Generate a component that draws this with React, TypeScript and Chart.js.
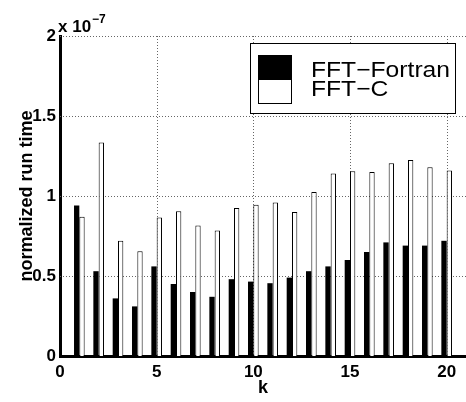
import { useEffect, useRef } from "react";
import { Chart, registerables } from "chart.js";

Chart.register(...registerables);

// Problem size index k
const kValues = [1, 2, 3, 4, 5, 6, 7, 8, 9, 10, 11, 12, 13, 14, 15, 16, 17, 18, 19, 20];

// Normalized run times, in units of 1e-7
const fortranTimes = [
  0.94, 0.53, 0.36, 0.31, 0.56, 0.45, 0.40, 0.37, 0.48, 0.465,
  0.455, 0.49, 0.53, 0.56, 0.60, 0.65, 0.71, 0.69, 0.69, 0.72,
];
const cTimes = [
  0.87, 1.335, 0.72, 0.655, 0.865, 0.905, 0.815, 0.785, 0.925, 0.945,
  0.96, 0.90, 1.025, 1.14, 1.155, 1.15, 1.205, 1.225, 1.18, 1.16,
];

const seriesNames = ["FFT\u2212Fortran", "FFT\u2212C"];
const xTicks = [0, 5, 10, 15, 20];
const yTicks = [0, 0.5, 1, 1.5, 2];
const xTitle = "k";
const yTitle = "normalized run time";
const exponentBase = "x 10";
const exponentPower = "\u22127";

const SANS = "'Liberation Sans', Arial, Helvetica, sans-serif";

const gridAndLabels = {
  id: "gridAndLabels",
  beforeDatasetsDraw(chart: any) {
    const { ctx, chartArea, scales } = chart;
    const xs = scales.x;
    const ys = scales.y;
    ctx.save();
    ctx.strokeStyle = "#666";
    ctx.lineWidth = 1;
    ctx.setLineDash([1, 2]);
    for (const v of xTicks) {
      if (v === 0) continue;
      const px = Math.round(xs.getPixelForValue(v)) + 0.5;
      ctx.beginPath();
      ctx.moveTo(px, chartArea.top);
      ctx.lineTo(px, chartArea.bottom);
      ctx.stroke();
    }
    for (const v of yTicks) {
      if (v === 0) continue;
      const py = Math.round(ys.getPixelForValue(v)) + 0.5;
      ctx.beginPath();
      ctx.moveTo(chartArea.left, py);
      ctx.lineTo(chartArea.right, py);
      ctx.stroke();
    }
    ctx.restore();
  },
  afterDraw(chart: any) {
    const { ctx, chartArea } = chart;
    ctx.save();
    ctx.fillStyle = "#000";

    // y axis title
    ctx.save();
    ctx.translate(27, (chartArea.top + chartArea.bottom) / 2);
    ctx.rotate(-Math.PI / 2);
    ctx.font = `bold 18px ${SANS}`;
    ctx.textAlign = "center";
    ctx.textBaseline = "middle";
    ctx.fillText(yTitle, 0, 0);
    ctx.restore();

    // x axis title
    ctx.font = `bold 18px ${SANS}`;
    ctx.textAlign = "center";
    ctx.textBaseline = "alphabetic";
    ctx.fillText(xTitle, (chartArea.left + chartArea.right) / 2, 393);

    // exponent multiplier above the y axis
    ctx.textAlign = "left";
    ctx.font = `bold 17px ${SANS}`;
    ctx.fillText(exponentBase, 58, 32);
    const baseW = ctx.measureText(exponentBase).width;
    ctx.font = `bold 12px ${SANS}`;
    ctx.fillText(exponentPower, 58 + baseW + 1, 23);

    // legend
    const lx = 250.5, ly = 43.5, lw = 205, lh = 70;
    ctx.fillStyle = "#fff";
    ctx.fillRect(lx, ly, lw, lh);
    ctx.strokeStyle = "#000";
    ctx.lineWidth = 1;
    ctx.strokeRect(lx, ly, lw, lh);
    const px = 258.5, py = 55.5, pw = 33, ph = 24;
    ctx.fillStyle = "#000";
    ctx.fillRect(px, py, pw, ph);
    ctx.strokeRect(px, py, pw, ph);
    ctx.fillStyle = "#fff";
    ctx.fillRect(px, py + ph, pw, ph);
    ctx.strokeRect(px, py + ph, pw, ph);

    ctx.fillStyle = "#000";
    ctx.font = `22px ${SANS}`;
    const w0 = ctx.measureText(seriesNames[0]).width;
    const sx = 139 / w0;
    ctx.save();
    ctx.translate(311, 0);
    ctx.scale(sx, 1);
    ctx.fillText(seriesNames[0], 0, 77);
    ctx.fillText(seriesNames[1], 0, 96);
    ctx.restore();

    ctx.restore();
  },
};

export default function App() {
  const canvasRef = useRef<HTMLCanvasElement | null>(null);

  useEffect(() => {
    const canvas = canvasRef.current;
    if (!canvas) return;
    const chart = new Chart(canvas, {
      type: "bar",
      data: {
        datasets: [
          {
            label: seriesNames[0],
            data: kValues.map((k, i) => ({ x: k, y: fortranTimes[i] })),
            backgroundColor: "#000",
            borderColor: "#000",
            borderWidth: 0,
          },
          {
            label: seriesNames[1],
            data: kValues.map((k, i) => ({ x: k, y: cTimes[i] })),
            backgroundColor: "#fff",
            borderColor: "#000",
            borderWidth: 1,
          },
        ],
      },
      options: {
        responsive: false,
        animation: false,
        devicePixelRatio: 1,
        categoryPercentage: 0.55,
        barPercentage: 1,
        layout: { padding: { top: 36, right: 0, left: 0, bottom: 0 } },
        plugins: {
          legend: { display: false },
          tooltip: { enabled: false },
        },
        scales: {
          x: {
            type: "linear",
            min: 0,
            max: 21,
            offset: false,
            grid: { display: false, offset: false, drawTicks: false },
            border: { display: true, color: "#000", width: 3 },
            afterFit: (s: any) => {
              s.height = 46;
            },
            afterBuildTicks: (s: any) => {
              s.ticks = xTicks.map((v) => ({ value: v }));
            },
            ticks: {
              color: "#000",
              font: { family: SANS, size: 17, weight: "bold" },
              padding: 6,
              maxRotation: 0,
              autoSkip: false,
              callback: (v: any) => String(v),
            },
          },
          y: {
            type: "linear",
            min: 0,
            max: 2,
            grid: { display: false, drawTicks: false },
            border: { display: true, color: "#000", width: 3 },
            afterFit: (s: any) => {
              s.width = 60;
            },
            afterBuildTicks: (s: any) => {
              s.ticks = yTicks.map((v) => ({ value: v }));
            },
            ticks: {
              color: "#000",
              font: { family: SANS, size: 17, weight: "bold" },
              padding: 4,
              autoSkip: false,
              callback: (v: any) => String(v),
            },
          },
        },
      } as any,
      plugins: [gridAndLabels],
    });
    return () => chart.destroy();
  }, []);

  return (
    <div style={{ position: "fixed", left: 0, top: 0, width: 466, height: 402, background: "#fff" }}>
      <canvas ref={canvasRef} width={466} height={402} style={{ display: "block" }} />
    </div>
  );
}
